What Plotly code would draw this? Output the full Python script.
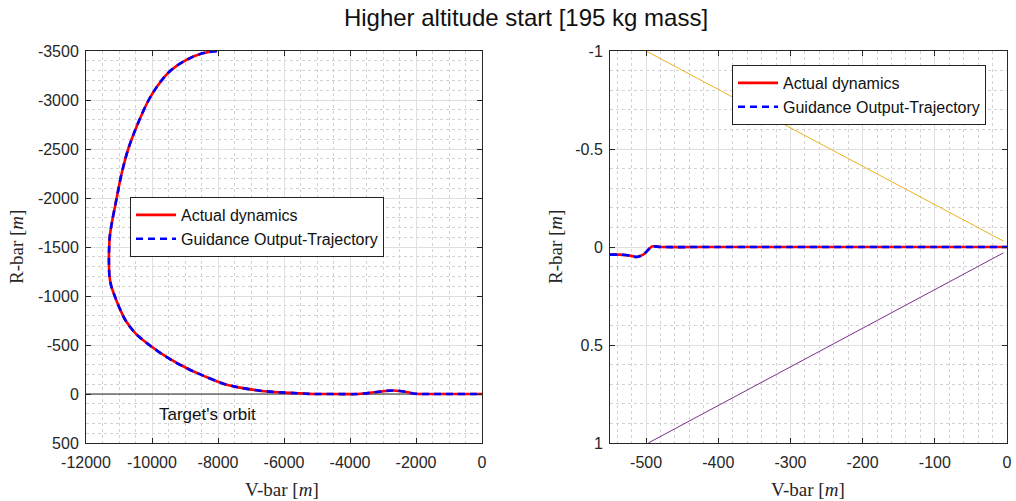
import plotly.graph_objects as go

# ---------------- data ----------------
vbar_left = [-8030, -8465, -8970, -9475, -9820, -10100, -10440, -10720, -10920, -11070,
             -11215, -11275, -11298, -11305, -11288, -11235, -11130, -10975, -10800, -10500,
             -10081, -9500, -8869, -8465, -7788, -7333, -6727, -6121, -5515,
             -5111, -4500, -3750, -3191, -2687, -2282, -2100, -1900, -1700, -1000, 0]
rbar_actual_left = [-3500, -3476, -3408, -3289, -3150, -3000, -2750, -2500, -2250, -2000,
                    -1750, -1620, -1500, -1350, -1200, -1100, -1000, -870, -750, -619,
                    -500, -365, -250, -190, -100, -65, -34, -17, -7,
                    0, 0, 0, -20, -36, -20, -6, 0, 0, 0, 0]
rbar_guidance_left = list(rbar_actual_left)

orbit_v = [-12000, 0]
orbit_r = [0, 0]

vbar_right = [-550, -536, -522, -513, -504, -497, -492, -480, -400, -300, -200, -100, 0]
rbar_actual_right = [0.039, 0.039, 0.044, 0.051, 0.039, 0.014, -0.003, 0.0, 0.0, 0.0, 0.0, 0.0, 0.0]
rbar_guidance_right = list(rbar_actual_right)

cone_upper_v = [-500, -5]
cone_upper_r = [-1, -0.03]
cone_lower_v = [-497, -5]
cone_lower_r = [1, 0.03]

left_xticks = [-12000, -10000, -8000, -6000, -4000, -2000, 0]
left_yticks = [-3500, -3000, -2500, -2000, -1500, -1000, -500, 0, 500]
right_xticks = [-500, -400, -300, -200, -100, 0]
right_yticks = [-1, -0.5, 0, 0.5, 1]

title_text = "Higher altitude start [195 kg mass]"
name_actual = "Actual dynamics"
name_guid = "Guidance Output-Trajectory"

# ---------------- styles ----------------
RED = "#FF0000"
BLUE = "#0000FF"
AX = "#262626"
GRID = "#e0e0e0"
MINOR = "#d2d2d2"
TICKFONT = dict(family="Liberation Sans, Arial", size=16, color=AX)
DASH = "7px,5px"

def lab(v):
    return "%g" % v

fig = go.Figure()

# left panel
fig.add_trace(go.Scatter(x=orbit_v, y=orbit_r, mode="lines", line=dict(color="#222222", width=1),
                         showlegend=False, xaxis="x", yaxis="y", hoverinfo="skip"))
fig.add_trace(go.Scatter(x=vbar_left, y=rbar_actual_left, mode="lines", name=name_actual,
                         line=dict(color=RED, width=2.6, shape="spline", smoothing=1.0),
                         xaxis="x", yaxis="y", legend="legend"))
fig.add_trace(go.Scatter(x=vbar_left, y=rbar_guidance_left, mode="lines", name=name_guid,
                         line=dict(color=BLUE, width=2.6, dash=DASH, shape="spline", smoothing=1.0),
                         xaxis="x", yaxis="y", legend="legend"))

# right panel
fig.add_trace(go.Scatter(x=vbar_right, y=rbar_actual_right, mode="lines", name=name_actual,
                         line=dict(color=RED, width=2.6, shape="spline", smoothing=0.6),
                         xaxis="x2", yaxis="y2", legend="legend2"))
fig.add_trace(go.Scatter(x=vbar_right, y=rbar_guidance_right, mode="lines", name=name_guid,
                         line=dict(color=BLUE, width=2.6, dash=DASH, shape="spline", smoothing=0.6),
                         xaxis="x2", yaxis="y2", legend="legend2"))
fig.add_trace(go.Scatter(x=cone_upper_v, y=cone_upper_r, mode="lines", line=dict(color="#EDB120", width=1),
                         showlegend=False, xaxis="x2", yaxis="y2", hoverinfo="skip"))
fig.add_trace(go.Scatter(x=cone_lower_v, y=cone_lower_r, mode="lines", line=dict(color="#7E2F8E", width=1),
                         showlegend=False, xaxis="x2", yaxis="y2", hoverinfo="skip"))

def axis(domain, rng, ticks, minor_dtick, anchor, standoff):
    return dict(
        domain=domain, range=rng, anchor=anchor, automargin=False,
        tickmode="array", tickvals=ticks, ticktext=[lab(t) for t in ticks],
        showline=True, linecolor=AX, linewidth=1, mirror="ticks",
        ticks="inside", ticklen=5, tickcolor=AX, tickwidth=1,
        showgrid=True, gridcolor=GRID, gridwidth=1, zeroline=False,
        tickfont=TICKFONT, ticklabelstandoff=standoff,
        minor=dict(tickmode="linear", tick0=0, dtick=minor_dtick, showgrid=True,
                   gridcolor=MINOR, griddash="dot", gridwidth=1, ticks=""),
    )

XL = [86 / 1016, 482 / 1016]
XR = [610 / 1016, 1007 / 1016]
YD = [1 - 443 / 501, 1 - 51 / 501]

legend_style = dict(bgcolor="white", bordercolor="#222222", borderwidth=1,
                    font=dict(family="Liberation Sans, Arial", size=16, color="#111111"),
                    xanchor="left", yanchor="top", itemwidth=40, tracegroupgap=0)

fig.update_layout(
    width=1016, height=501,
    margin=dict(l=0, r=0, t=0, b=0, autoexpand=False),
    paper_bgcolor="white", plot_bgcolor="white",
    xaxis=axis(XL, [-12000, 0], left_xticks, 500, "y", 5),
    yaxis=axis(YD, [500, -3500], left_yticks, 100, "x", 3),
    xaxis2=axis(XR, [-550, 0], right_xticks, 20, "y2", 5),
    yaxis2=axis(YD, [1, -1], right_yticks, 0.1, "x2", 3),
    legend=dict(x=130 / 1016, y=1 - 197 / 501, **legend_style),
    legend2=dict(x=732 / 1016, y=1 - 65 / 501, **legend_style),
    showlegend=True,
    title=dict(text=title_text, x=526 / 1016, xanchor="center", y=1 - 18 / 501, yanchor="middle",
               automargin=False,
               font=dict(family="Liberation Sans, Arial", size=24, color="#111111")),
)

serif = dict(family="Liberation Serif, Times New Roman", size=19, color=AX)
ann = [
    dict(text="V-bar [<i>m</i>]", x=282 / 1016, y=1 - 489 / 501, xref="paper", yref="paper",
         showarrow=False, font=serif, xanchor="center", yanchor="middle"),
    dict(text="V-bar [<i>m</i>]", x=808 / 1016, y=1 - 489 / 501, xref="paper", yref="paper",
         showarrow=False, font=serif, xanchor="center", yanchor="middle"),
    dict(text="R-bar [<i>m</i>]", x=17 / 1016, y=1 - 247 / 501, xref="paper", yref="paper",
         showarrow=False, font=serif, xanchor="center", yanchor="middle", textangle=-90),
    dict(text="R-bar [<i>m</i>]", x=556 / 1016, y=1 - 247 / 501, xref="paper", yref="paper",
         showarrow=False, font=serif, xanchor="center", yanchor="middle", textangle=-90),
    dict(text="Target's orbit", x=-9850, y=214, xref="x", yref="y", showarrow=False,
         font=dict(family="Liberation Sans, Arial", size=17, color="#111111"),
         xanchor="left", yanchor="middle"),
]
fig.update_layout(annotations=ann)

fig.write_html("out.html")
